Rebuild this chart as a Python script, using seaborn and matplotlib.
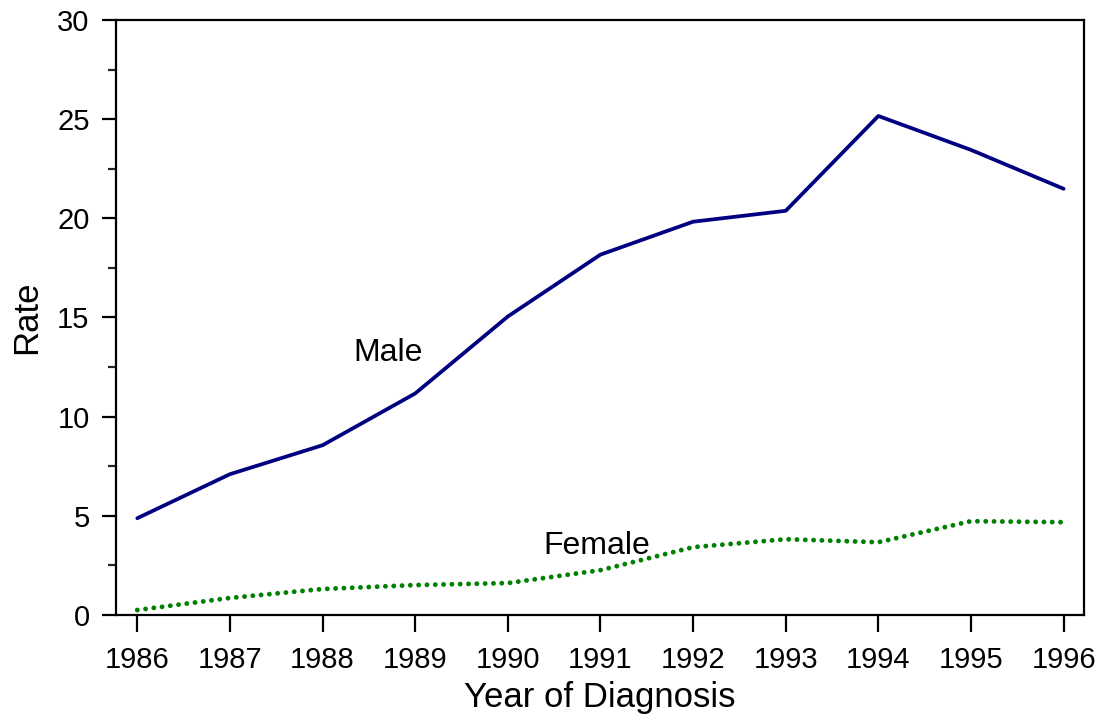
import matplotlib
matplotlib.use("Agg")
import matplotlib.pyplot as plt
import numpy as np
import pandas as pd
import seaborn as sns

# Values
years = [1986, 1987, 1988, 1989, 1990, 1991, 1992, 1993, 1994, 1995, 1996]
male_rate = [4.88, 7.10, 8.56, 11.17, 15.05, 18.17, 19.83, 20.38, 25.16, 23.45, 21.49]
female_rate = [0.25, 0.86, 1.31, 1.51, 1.61, 2.26, 3.42, 3.82, 3.67, 4.73, 4.68]

df = pd.DataFrame({'year': years, 'Male': male_rate, 'Female': female_rate})

sns.set_style("ticks")
plt.rcParams['font.family'] = ['Liberation Sans', 'DejaVu Sans']
plt.rcParams['text.color'] = 'black'
plt.rcParams['axes.labelcolor'] = 'black'

fig = plt.figure(figsize=(10.99, 7.14), dpi=100)
ax = fig.add_axes([116 / 1099, 99 / 714, 968 / 1099, 595 / 714])

sns.lineplot(data=df, x='year', y='Male', color='#000080', linewidth=2.7, ax=ax)
sns.lineplot(data=df, x='year', y='Female', color='#008000', linewidth=3.5,
             linestyle=(0, (0.01, 1.7)), dash_capstyle='round', ax=ax)

ax.text(1988.71, 13.2, 'Male', fontsize=23, ha='center', va='center')
ax.text(1990.96, 3.5, 'Female', fontsize=23, ha='center', va='center')

ax.set_xlim(1985.77, 1996.22)
ax.set_ylim(0, 30)
ax.set_xticks(years)
ax.set_yticks([0, 5, 10, 15, 20, 25, 30])
ax.set_yticks(np.arange(2.5, 30, 5), minor=True)

ax.tick_params(axis='both', labelsize=21, width=1.6, colors='black')
ax.tick_params(axis='y', which='major', length=10, pad=9)
ax.tick_params(axis='y', which='minor', length=6, width=1.6)
ax.tick_params(axis='x', length=12, pad=10)

for side in ['left', 'right', 'top', 'bottom']:
    ax.spines[side].set_visible(True)
    ax.spines[side].set_linewidth(1.6)
    ax.spines[side].set_color('black')

ax.set_xlabel('Year of Diagnosis', fontsize=25, labelpad=5)
ax.set_ylabel('Rate', fontsize=25, labelpad=10)

fig.savefig('out.png', dpi=100)
